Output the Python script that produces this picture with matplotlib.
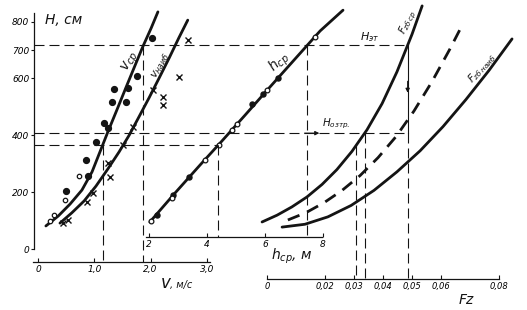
import numpy as np
import matplotlib
matplotlib.use('Agg')
import matplotlib.pyplot as plt

plt.rcParams['font.family'] = ['DejaVu Sans']
plt.rcParams['mathtext.fontset'] = 'dejavusans'

# общая шкала H, см
H_ticks = [0, 200, 400, 600, 700, 800]
H_et = 717      # Hэт
H_ozt = 408     # Hозтр.
H_low = 366

# v ср (кривая)
v_sr_V = [0.14, 0.36, 0.57, 0.78, 0.96, 1.10, 1.24, 1.40, 1.56, 1.72, 1.86, 2.01, 2.13]
v_sr_H = [82, 117, 159, 208, 272, 342, 412, 489, 567, 644, 711, 777, 834]
# v ср точки
v_sr_fill_V = [0.50, 0.89, 0.85, 1.03, 1.17, 1.24, 1.31, 1.35, 1.56, 1.60, 1.76, 2.02]
v_sr_fill_H = [204, 256, 313, 376, 443, 425, 516, 562, 516, 565, 607, 741]
v_sr_open_V = [0.21, 0.28, 0.48, 0.73]
v_sr_open_H = [99, 120, 172, 256]

# v наиб
v_nb_V = [0.39, 0.60, 0.82, 1.03, 1.24, 1.44, 1.62, 1.79, 1.97, 2.15, 2.33, 2.50, 2.66]
v_nb_H = [92, 128, 170, 222, 282, 342, 401, 464, 531, 601, 672, 742, 805]
v_nb_pts_V = [0.44, 0.53, 0.87, 0.98, 1.24, 1.28, 1.51, 1.69, 2.04, 2.22, 2.22, 2.50, 2.66]
v_nb_pts_H = [92, 103, 166, 197, 302, 253, 366, 429, 559, 534, 506, 604, 734]

# h ср, м
h_h = [2.03, 2.90, 3.76, 4.45, 5.31, 6.17, 7.03, 7.90, 8.69]
h_H = [96, 198, 296, 373, 471, 570, 668, 767, 840]
h_open_h = [2.07, 2.79, 3.93, 4.41, 4.86, 5.03, 6.07, 7.72]
h_open_H = [98, 180, 312, 368, 420, 439, 560, 745]
h_fill_h = [2.28, 2.83, 3.38, 5.55, 5.93, 6.45]
h_fill_H = [122, 190, 254, 512, 545, 602]

# Fz
fz_sr_F = [-0.0017, 0.0035, 0.0086, 0.0138, 0.0190, 0.0241, 0.0293, 0.0345, 0.0397, 0.0448, 0.0500, 0.0535]
fz_sr_H = [96, 120, 149, 184, 228, 280, 344, 420, 512, 623, 755, 855]
fz_mid_F = [0.0072, 0.0135, 0.0197, 0.0259, 0.0321, 0.0383, 0.0445, 0.0507, 0.0569, 0.0631, 0.0672]
fz_mid_H = [103, 129, 164, 207, 259, 322, 396, 486, 589, 704, 785]
fz_nb_F = [0.0052, 0.0131, 0.0210, 0.0290, 0.0369, 0.0448, 0.0528, 0.0607, 0.0686, 0.0766, 0.0845]
fz_nb_H = [78, 88, 114, 154, 207, 272, 346, 431, 526, 629, 739]

V_ticks = [0, 1, 2, 3]
V_labels = ['0', '1,0', '2,0', '3,0']
h_ticks = [2, 4, 6, 8]
h_labels = ['2', '4', '6', '8']
fz_ticks = [0, 0.02, 0.03, 0.04, 0.05, 0.06, 0.08]
fz_labels = ['0', '0,02', '0,03', '0,04', '0,05', '0,06', '0,08']

ink = '#141414'
dash = dict(color=ink, lw=0.8, ls=(0, (9, 4.5)))
thick = dict(color=ink, lw=2.0, solid_capstyle='round', solid_joinstyle='round')

fig = plt.figure(figsize=(5.27, 3.10), dpi=100)
ax1 = fig.add_axes([0, 0, 1, 1])
ax2 = fig.add_axes([0, 0, 1, 1])
ax3 = fig.add_axes([0, 0, 1, 1])
for ax in (ax1, ax2, ax3):
    ax.set_ylim(-213.2, 875.7)
    ax.patch.set_visible(False)
    for s in ax.spines.values():
        s.set_visible(False)
ax1.set_xlim(-0.675, 8.686)
ax2.set_xlim(-3.138, 15.034)
ax3.set_xlim(-0.09207, 0.08966)

V_ax, h_ax, fz_ax = -44.6, 43.2, -104.3

# оси
ax1.spines['left'].set_visible(True)
ax1.spines['left'].set_position(('data', -0.07))
ax1.spines['left'].set_bounds(0, 830)
ax1.set_yticks(H_ticks)
ax1.set_yticklabels(H_ticks, fontstyle='italic', fontsize=6.5)
ax1.tick_params(axis='y', direction='out', length=2, pad=1.5, color=ink)

ax1.spines['bottom'].set_visible(True)
ax1.spines['bottom'].set_position(('data', V_ax))
ax1.spines['bottom'].set_bounds(-0.08, 3.05)
ax1.set_xticks(V_ticks)
ax1.set_xticklabels(V_labels, fontstyle='italic', fontsize=6.5)

ax2.spines['bottom'].set_visible(True)
ax2.spines['bottom'].set_position(('data', h_ax))
ax2.spines['bottom'].set_bounds(1.9, 7.97)
ax2.set_xticks(h_ticks)
ax2.set_xticklabels(h_labels, fontstyle='italic', fontsize=6.5)
ax2.set_yticks([])

ax3.spines['bottom'].set_visible(True)
ax3.spines['bottom'].set_position(('data', fz_ax))
ax3.spines['bottom'].set_bounds(0, 0.08)
ax3.set_xticks(fz_ticks)
ax3.set_xticklabels(fz_labels, fontstyle='italic', fontsize=6)
ax3.set_yticks([])

for ax in (ax1, ax2, ax3):
    ax.spines['bottom'].set_color(ink)
    ax.spines['left'].set_color(ink)
    ax.spines['bottom'].set_linewidth(0.9)
    ax.spines['left'].set_linewidth(0.9)
    ax.tick_params(axis='x', direction='in', length=3, pad=2, color=ink)

# кривые
ax1.plot(v_sr_V, v_sr_H, **thick)
ax1.plot(v_nb_V, v_nb_H, **thick)
ax1.plot(v_sr_fill_V, v_sr_fill_H, 'o', color=ink, ms=4.2)
ax1.plot(v_sr_open_V, v_sr_open_H, 'o', mfc='white', mec=ink, ms=3.2, mew=0.9)
ax1.plot(v_nb_pts_V, v_nb_pts_H, 'x', color=ink, ms=3.8, mew=1.0)

ax2.plot(h_h, h_H, **thick)
ax2.plot(h_fill_h, h_fill_H, 'o', color=ink, ms=3.6)
ax2.plot(h_open_h, h_open_H, 'o', mfc='white', mec=ink, ms=3.4, mew=0.9)

ax3.plot(fz_sr_F, fz_sr_H, **thick)
ax3.plot(fz_nb_F, fz_nb_H, **thick)
ax3.plot(fz_mid_F, fz_mid_H, color=ink, lw=2.0, ls=(0, (4.5, 3)))


def xconv(src, dst, x):
    d = src.transData.transform((x, 0))
    return dst.transData.inverted().transform(d)[0]


# вспомогательные линии
x_left3 = xconv(ax1, ax3, -0.07)
x_left2 = xconv(ax1, ax2, -0.07)
fz_et = np.interp(H_et, fz_sr_H, fz_sr_F)
fz_ozt = np.interp(H_ozt, fz_sr_H, fz_sr_F)
fz_low = np.interp(H_low, fz_sr_H, fz_sr_F)
h_et = np.interp(H_et, h_H, h_h)
h_low = np.interp(H_low, h_H, h_h)
v_et = np.interp(H_et, v_sr_H, v_sr_V)
v_low = np.interp(H_low, v_sr_H, v_sr_V)

ax3.plot([x_left3, fz_et], [H_et, H_et], **dash)
ax3.plot([x_left3, fz_et], [H_ozt, H_ozt], **dash)
ax2.plot([x_left2, h_low], [H_low, H_low], **dash)

ax1.plot([v_et, v_et], [H_et, V_ax], **dash)
ax1.plot([v_low, v_low], [H_low, V_ax], **dash)
ax2.plot([h_et, h_et], [H_et, h_ax], **dash)
ax2.plot([h_low, h_low], [H_low, h_ax], **dash)
ax3.plot([fz_et, fz_et], [H_et, H_ozt], color=ink, lw=0.8)
ax3.plot([fz_et, fz_et], [H_ozt, fz_ax], **dash)
ax3.plot([fz_low, fz_low], [H_low, fz_ax], **dash)
ax3.plot([fz_ozt, fz_ozt], [H_ozt, fz_ax], **dash)

ax3.annotate('', xy=(fz_et, 540), xytext=(fz_et, 600),
             arrowprops=dict(arrowstyle='-|>', color=ink, lw=0.8, mutation_scale=6))
ax3.annotate('', xy=(0.019, H_ozt), xytext=(0.012, H_ozt),
             arrowprops=dict(arrowstyle='-|>', color=ink, lw=0.8, mutation_scale=6))


def px(x, y):
    return x / 527, 1 - y / 310


txt = dict(color=ink, fontstyle='italic')
fig.text(*px(45, 20), 'H, см', fontsize=10, va='center', ha='left', **txt)
fig.text(*px(131, 62), r'$v_{ср}$', fontsize=10, rotation=62, ha='center', va='center', **txt)
fig.text(*px(161, 66), r'$v_{наиб}$', fontsize=8, rotation=60, ha='center', va='center', **txt)
fig.text(*px(279, 62), r'$h_{ср}$', fontsize=10, rotation=43, ha='center', va='center', **txt)
fig.text(*px(370, 37), r'$H_{эт}$', fontsize=8, ha='center', va='center', **txt)
fig.text(*px(336, 124), r'$H_{озтр.}$', fontsize=7.5, ha='center', va='center', **txt)
fig.text(*px(408, 22), r'$F_{zб\,ср}$', fontsize=7.5, rotation=64, ha='center', va='center', **txt)
fig.text(*px(482, 68), r'$F_{zб\,наиб}$', fontsize=7.5, rotation=47, ha='center', va='center', **txt)
fig.text(*px(160, 283), r'$v$', fontsize=12, ha='left', va='center', **txt)
fig.text(*px(170, 285), ', м/с', fontsize=7, ha='left', va='center', **txt)
fig.text(*px(292, 256), r'$h_{ср}$, м', fontsize=10, ha='center', va='center', **txt)
fig.text(*px(466, 300), 'Fz', fontsize=10, ha='center', va='center', **txt)

fig.savefig('out.png', dpi=100)
